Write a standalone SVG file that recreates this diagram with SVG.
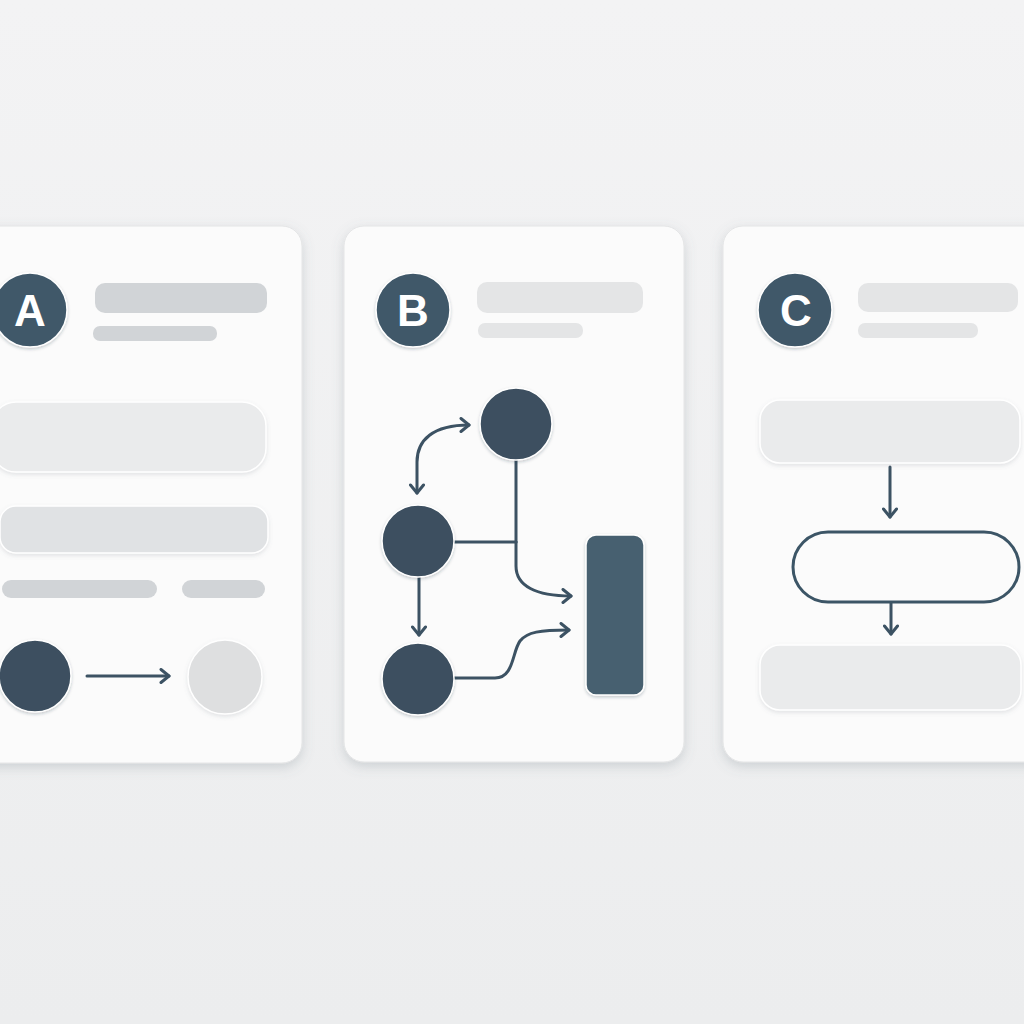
<svg xmlns="http://www.w3.org/2000/svg" width="1024" height="1024" viewBox="0 0 1024 1024">
  <defs>
    <linearGradient id="bg" x1="0" y1="0" x2="0" y2="1">
      <stop offset="0" stop-color="#f3f3f4"/>
      <stop offset="1" stop-color="#ecedee"/>
    </linearGradient>
    <filter id="cardShadow" x="-20%" y="-20%" width="140%" height="140%">
      <feDropShadow dx="0" dy="4" stdDeviation="6" flood-color="#6b7782" flood-opacity="0.25"/>
    </filter>
    <filter id="softShadow" x="-20%" y="-40%" width="140%" height="180%">
      <feDropShadow dx="0" dy="2" stdDeviation="2" flood-color="#6b7782" flood-opacity="0.18"/>
    </filter>
    <filter id="nodeShadow" x="-30%" y="-30%" width="160%" height="160%">
      <feDropShadow dx="0" dy="1.5" stdDeviation="1.5" flood-color="#1f2d38" flood-opacity="0.25"/>
    </filter>
    <marker id="arrow" markerUnits="userSpaceOnUse" markerWidth="16" markerHeight="16" viewBox="0 0 16 16" refX="13" refY="8" orient="auto-start-reverse">
      <path d="M5,1.5 L13,8 L5,14.5" fill="none" stroke="#3c5263" stroke-width="3" stroke-linecap="round" stroke-linejoin="round"/>
    </marker>
    <style>
      .card { fill: #fbfbfb; stroke: #e4e5e6; stroke-width: 1; filter: url(#cardShadow); }
      .badge { fill: #3f5869; stroke: #ffffff; stroke-width: 1.5; filter: url(#nodeShadow); }
      .badgeText { font-family: "Liberation Sans", Arial, sans-serif; font-weight: bold; font-size: 44px; fill: #ffffff; text-anchor: middle; }
      .barA { fill: #d1d4d7; }
      .barLight { fill: #e4e5e6; }
      .pill { fill: #eaebec; stroke: #ffffff; stroke-width: 1.5; filter: url(#softShadow); }
      .pill2 { fill: #e0e2e4; stroke: #ffffff; stroke-width: 1.5; filter: url(#softShadow); }
      .dark { fill: #3d5060; stroke: #ffffff; stroke-width: 1.5; filter: url(#nodeShadow); }
      .light { fill: #dedfe0; stroke: #ffffff; stroke-width: 1.5; filter: url(#softShadow); }
      .rectNode { fill: #47606f; stroke: #ffffff; stroke-width: 1.5; filter: url(#nodeShadow); }
      .edge { fill: none; stroke: #3c5263; stroke-width: 3; stroke-linecap: round; stroke-linejoin: round; }
      .outline { fill: #fbfbfb; stroke: #3c5566; stroke-width: 3; }
    </style>
  </defs>

  <rect x="0" y="0" width="1024" height="1024" fill="url(#bg)"/>

  <!-- Card A -->
  <g id="cardA">
    <rect class="card" x="-30" y="226" width="332" height="537" rx="20"/>
    <g id="badgeA">
      <circle class="badge" cx="30" cy="310" r="37"/>
      <text class="badgeText" x="30" y="326">A</text>
    </g>
    <rect class="barA" x="95" y="283" width="172" height="30" rx="10"/>
    <rect class="barA" x="93" y="326" width="124" height="15" rx="7"/>
    <rect class="pill" x="-8" y="402" width="274" height="70" rx="24"/>
    <rect class="pill2" x="0" y="506" width="268" height="47" rx="16"/>
    <rect class="barA" x="2" y="580" width="155" height="18" rx="9"/>
    <rect class="barA" x="182" y="580" width="83" height="18" rx="9"/>
    <g id="a-node1"><circle class="dark" cx="35" cy="676" r="36"/></g>
    <g id="a-node2"><circle class="light" cx="225" cy="677" r="37"/></g>
  </g>

  <!-- Card B -->
  <g id="cardB">
    <rect class="card" x="344" y="226" width="340" height="536" rx="20"/>
    <g id="badgeB">
      <circle class="badge" cx="413" cy="310" r="37"/>
      <text class="badgeText" x="413" y="326">B</text>
    </g>
    <rect class="barLight" x="477" y="282" width="166" height="31" rx="10"/>
    <rect class="barLight" x="478" y="323" width="105" height="15" rx="7"/>
  </g>

  <!-- Card C -->
  <g id="cardC">
    <rect class="card" x="723" y="226" width="340" height="536" rx="20"/>
    <g id="badgeC">
      <circle class="badge" cx="795" cy="310" r="37"/>
      <text class="badgeText" x="796" y="326">C</text>
    </g>
    <rect class="barLight" x="858" y="283" width="160" height="29" rx="10"/>
    <rect class="barLight" x="858" y="323" width="120" height="15" rx="7"/>
  </g>

  <!-- Connectors -->
  <g id="connectors">
    <line class="edge" x1="87" y1="676" x2="169" y2="676" marker-end="url(#arrow)"/>
    <path class="edge" d="M417 493 L417 462 C417 440 433 425 469 425" marker-start="url(#arrow)" marker-end="url(#arrow)"/>
    <path class="edge" d="M516 458 L516 542"/>
    <path class="edge" d="M454 542 L516 542"/>
    <path class="edge" d="M516 542 L516 566 C516 586 536 596 571 596" marker-end="url(#arrow)"/>
    <path class="edge" d="M419 577 L419 635" marker-end="url(#arrow)"/>
    <path class="edge" d="M453 678 L495 678 C514 678 512 652 520 641 C527 632 540 630 569 630" marker-end="url(#arrow)"/>
    <path class="edge" d="M890 467 L890 517" marker-end="url(#arrow)"/>
    <path class="edge" d="M891 603 L891 634" marker-end="url(#arrow)"/>
  </g>

  <!-- Card B nodes -->
  <g id="b-top"><circle class="dark" cx="516" cy="424" r="36"/></g>
  <g id="b-mid"><circle class="dark" cx="418" cy="541" r="36"/></g>
  <g id="b-bottom"><circle class="dark" cx="418" cy="679" r="36"/></g>
  <g id="b-rect"><rect class="rectNode" x="586" y="535" width="58" height="160" rx="10"/></g>

  <!-- Card C nodes -->
  <g id="c-top"><rect class="pill" x="760" y="400" width="260" height="63" rx="20"/></g>
  <g id="c-mid"><rect class="outline" x="793" y="532" width="226" height="70" rx="35"/></g>
  <g id="c-bottom"><rect class="pill" x="760" y="645" width="261" height="65" rx="20"/></g>
</svg>
